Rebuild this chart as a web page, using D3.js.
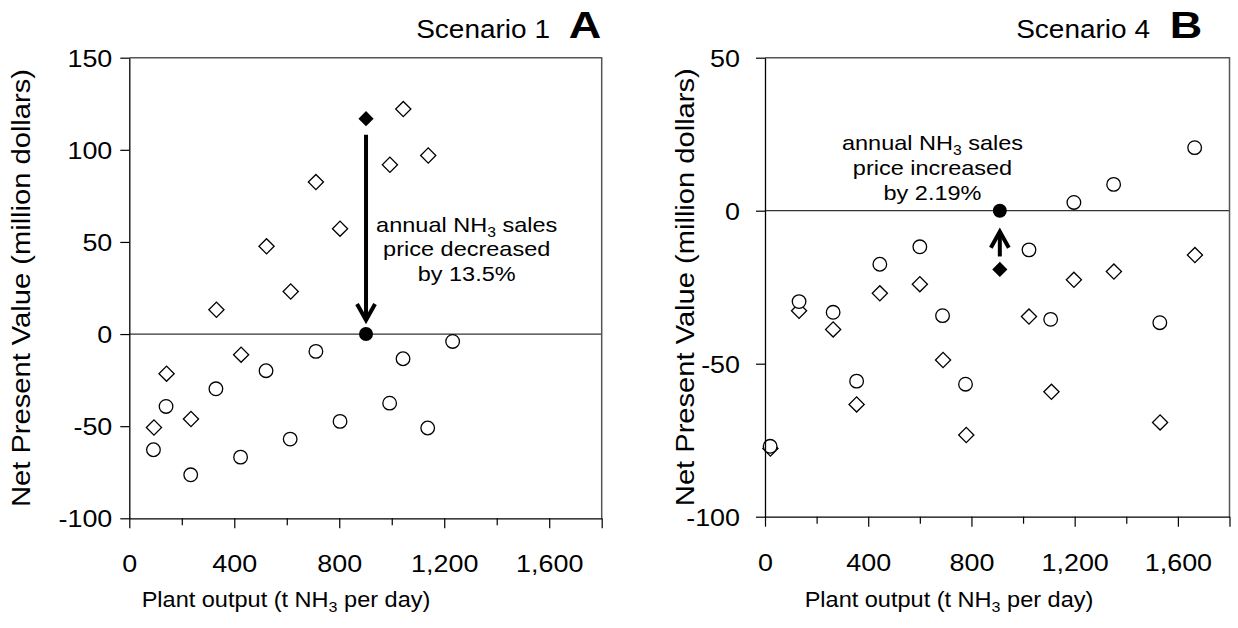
<!DOCTYPE html>
<html>
<head>
<meta charset="utf-8">
<script src="https://cdn.jsdelivr.net/npm/d3@7"></script>
<style>
  body { margin: 0; background: #fff; }
  text { font-family: "Liberation Sans", Arial, sans-serif; fill: #000; }
</style>
</head>
<body>
<script>
// shared x axis
const xTicks = [0, 200, 400, 600, 800, 1000, 1200, 1400, 1600, 1800]
const xLabels = [0, 400, 800, 1200, 1600]

// Scenario 1 (panel A)
const s1CircleX = [92, 140, 234, 330, 424, 521, 613, 711, 803, 992, 1043, 1137, 1232]
const s1Circle = [-62.8, -39.3, -76.4, -29.7, -66.8, -19.9, -57, -9.4, -47.4, -37.5, -13.4, -51, -4]
const s1DiamondX = [94, 142, 235, 332, 426, 523, 615, 711, 803, 993, 1044, 1139]
const s1Diamond = [-50.7, -21.5, -46.1, 13.2, -11.2, 47.6, 23.1, 82.5, 57.2, 91.9, 122.1, 96.9]
const s1YTicks = [-100, -50, 0, 50, 100, 150]
const s1Mark = [902, 116.9, 0]   // x, before (diamond), after (circle)

// Scenario 4 (panel B)
const s4CircleX = [20, 132, 264, 355, 445, 600, 688, 777, 1023, 1107, 1197, 1351, 1530, 1665]
const s4Circle = [-77, -29.7, -33.2, -55.7, -17.5, -11.8, -34.3, -56.7, -12.8, -35.5, 2.7, 8.6, -36.6, 20.6]
const s4DiamondX = [21, 132, 264, 355, 445, 600, 690, 780, 1023, 1110, 1197, 1352, 1531, 1666]
const s4Diamond = [-77.7, -32.7, -38.8, -63.3, -27, -24, -48.8, -73.3, -34.6, -59.2, -22.6, -19.9, -69.2, -14.5]
const s4YTicks = [-100, -50, 0, 50]
const s4Mark = [910, -19.2, 0]

const SX = 1.12   // text in the picture is a little wider than Liberation Sans

const svg = d3.select("body").append("svg")
  .attr("width", 1238).attr("height", 628)

function drawPanel(p) {
  const x = d3.scaleLinear().domain([0, 1800]).range([p.left, p.right])
  const y = d3.scaleLinear().domain(p.yDomain).range([p.bottom, p.top])
  const g = svg.append("g")

  // zero line
  g.append("line")
    .attr("x1", p.left).attr("x2", p.right)
    .attr("y1", y(0)).attr("y2", y(0))
    .attr("stroke", "#333").attr("stroke-width", 1.3)

  // frame top/right
  g.append("path")
    .attr("d", `M${p.left},${p.top}H${p.right}V${p.bottom}`)
    .attr("fill", "none").attr("stroke", "#555").attr("stroke-width", 1.5)

  const diamond = d3.symbol(d3.symbolSquare, 115)

  g.selectAll(".dia").data(p.diaX.map((d, i) => [d, p.dia[i]]))
    .enter().append("path")
    .attr("d", diamond)
    .attr("transform", d => `translate(${x(d[0])},${y(d[1])}) rotate(45)`)
    .attr("fill", "#fff").attr("stroke", "#000").attr("stroke-width", 1.3)

  g.selectAll(".circ").data(p.circX.map((d, i) => [d, p.circ[i]]))
    .enter().append("circle")
    .attr("cx", d => x(d[0])).attr("cy", d => y(d[1])).attr("r", 6.8)
    .attr("fill", "#fff").attr("stroke", "#000").attr("stroke-width", 1.3)

  // highlighted pair + arrow
  const mx = x(p.mark[0])
  const y0 = y(p.mark[1]), y1 = y(p.mark[2])
  const dir = y1 > y0 ? 1 : -1
  const ys = y0 + dir * p.gapStart, ye = y1 - dir * p.gapEnd
  g.append("path")
    .attr("d", diamond)
    .attr("transform", `translate(${mx},${y0}) rotate(45)`)
    .attr("fill", "#000")
  g.append("circle").attr("cx", mx).attr("cy", y1).attr("r", 7).attr("fill", "#000")
  g.append("line")
    .attr("x1", mx).attr("x2", mx).attr("y1", ys).attr("y2", ye - dir * 2)
    .attr("stroke", "#000").attr("stroke-width", 4)
  g.append("path")
    .attr("d", `M${mx - 9},${ye - dir * 16}L${mx},${ye}L${mx + 9},${ye - dir * 16}`)
    .attr("fill", "none").attr("stroke", "#000").attr("stroke-width", 4)

  // note
  const note = g.append("g").attr("transform", `translate(${p.noteX},${p.noteY}) scale(${SX},1)`)
  const t1 = note.append("text").attr("text-anchor", "middle").attr("font-size", 21)
  t1.append("tspan").text("annual NH")
  t1.append("tspan").text("3").attr("font-size", 14).attr("dy", 5)
  t1.append("tspan").text(" sales").attr("dy", -5)
  p.noteLines.forEach((s, i) => {
    note.append("text").attr("text-anchor", "middle").attr("font-size", 21)
      .attr("y", (i + 1) * 25).text(s)
  })

  // axes
  const ax = g.append("g").attr("transform", `translate(0,${p.bottom})`)
    .call(d3.axisBottom(x).tickValues(xTicks).tickSize(7).tickSizeOuter(0)
      .tickFormat(d => xLabels.includes(d) ? d3.format(",")(d) : ""))
  ax.select(".domain").attr("stroke-width", 1.3)
  ax.selectAll(".tick line").attr("stroke-width", 1.2)
    .attr("y2", d => xLabels.includes(d) || d === 1800 ? 10 : 7)
  ax.selectAll(".tick text")
    .attr("y", 0).attr("dy", 0).attr("font-size", 24)
    .attr("transform", `translate(0,54) scale(${SX},1)`)

  const ay = g.append("g").attr("transform", `translate(${p.left},0)`)
    .call(d3.axisLeft(y).tickValues(p.yTicks).tickSize(9).tickSizeOuter(0)
      .tickFormat(d => String(d)))
  ay.select(".domain").attr("stroke-width", 1.3)
  ay.selectAll(".tick line").attr("stroke-width", 1.2)
  ay.selectAll(".tick text")
    .attr("x", 0).attr("dy", "0.35em").attr("font-size", 24)
    .attr("transform", `translate(${-p.labelGap},0) scale(${SX},1)`)

  // axis titles
  const xt = g.append("text").attr("text-anchor", "middle").attr("font-size", 22)
    .attr("transform", `translate(${p.xTitleX},607) scale(1.07,1)`)
  xt.append("tspan").text("Plant output (t NH")
  xt.append("tspan").text("3").attr("font-size", 15).attr("dy", 5)
  xt.append("tspan").text(" per day)").attr("dy", -5)

  g.append("text").attr("text-anchor", "middle").attr("font-size", 26)
    .attr("transform", `translate(${p.yTitleX},${(p.top + p.bottom) / 2}) rotate(-90) scale(1.12,1)`)
    .text("Net Present Value (million dollars)")

  // titles
  g.append("text").attr("text-anchor", "end").attr("font-size", 25)
    .attr("transform", `translate(${p.titleX},38) scale(${SX},1)`)
    .text(p.title)
  g.append("text").attr("text-anchor", "middle").attr("font-size", 36).attr("font-weight", "bold")
    .attr("transform", `translate(${p.letterX},38) scale(1.25,1)`)
    .text(p.letter)
}

drawPanel({
  left: 129.3, right: 601.7, top: 57.7, bottom: 518.3,
  yDomain: [-100, 150], yTicks: s1YTicks,
  circX: s1CircleX, circ: s1Circle, diaX: s1DiamondX, dia: s1Diamond,
  mark: s1Mark, gapStart: 16, gapEnd: 14,
  noteX: 466.7, noteY: 231.5, noteLines: ["price decreased", "by 13.5%"],
  labelGap: 17, xTitleX: 286, yTitleX: 30,
  title: "Scenario 1", titleX: 550, letter: "A", letterX: 585
})

drawPanel({
  left: 765, right: 1229.5, top: 57.7, bottom: 516.7,
  yDomain: [-100, 50], yTicks: s4YTicks,
  circX: s4CircleX, circ: s4Circle, diaX: s4DiamondX, dia: s4Diamond,
  mark: s4Mark, gapStart: 13, gapEnd: 21,
  noteX: 932.5, noteY: 150, noteLines: ["price increased", "by 2.19%"],
  labelGap: 25, xTitleX: 949, yTitleX: 694,
  title: "Scenario 4", titleX: 1150, letter: "B", letterX: 1186
})
</script>
</body>
</html>
